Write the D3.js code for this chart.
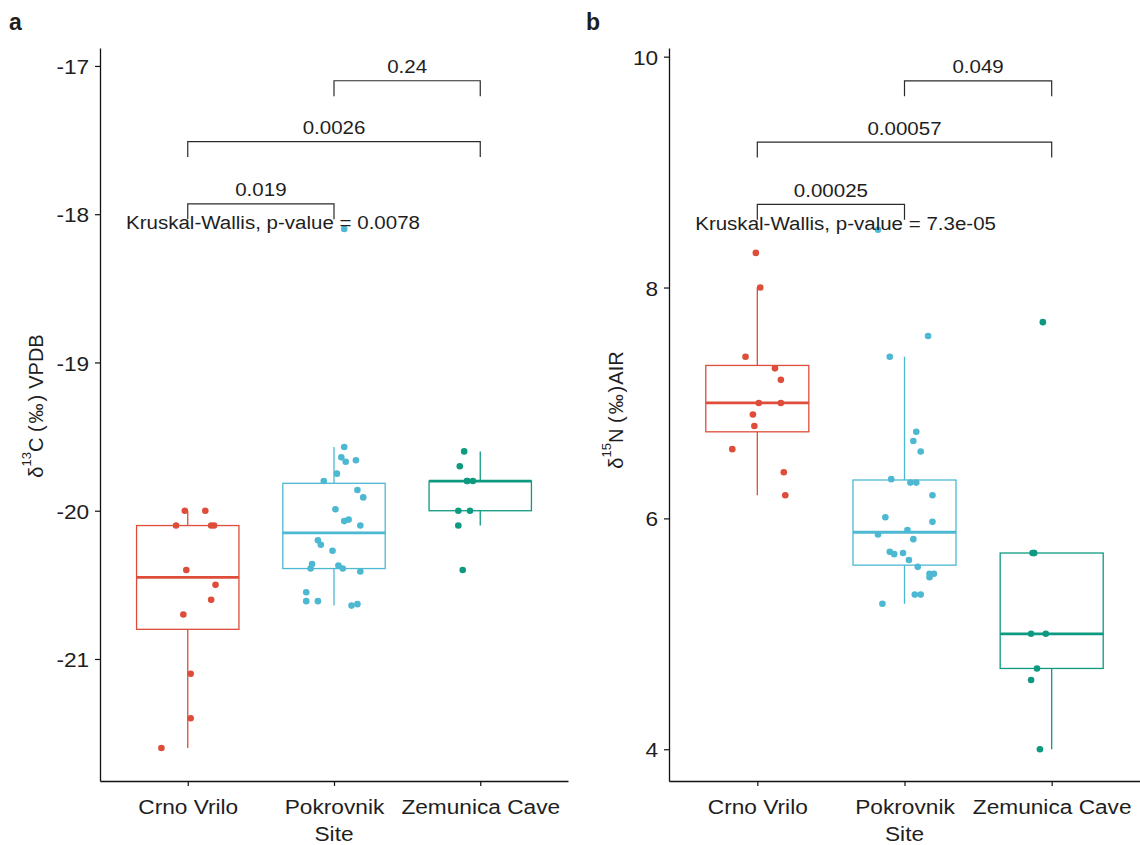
<!DOCTYPE html>
<html>
<head>
<meta charset="utf-8">
<script src="https://cdn.jsdelivr.net/npm/d3@7"></script>
<style>
  html, body { margin: 0; padding: 0; background: #fff; }
  svg text { font-family: "Liberation Sans", Arial, sans-serif; fill: #1e1e1e; }
</style>
</head>
<body>
<svg id="chart" width="1140" height="845"></svg>
<script>
const sites = ["Crno Vrilo", "Pokrovnik", "Zemunica Cave"];

// δ13C (‰ VPDB) per site, with the horizontal jitter of each point (category units)
const carbonCrno = [-20.0, -20.0, -20.1, -20.1, -20.1, -20.4, -20.5, -20.6, -20.7, -21.1, -21.4, -21.6];
const carbonCrnoJit = [-0.02, 0.12, -0.08, 0.16, 0.18, -0.01, 0.19, 0.16, -0.03, 0.02, 0.02, -0.18];
const carbonPokr = [-19.57, -19.64, -19.67, -19.66, -19.75, -19.80, -19.86, -19.91, -19.99, -20.06, -20.07, -20.10, -20.20,
  -20.23, -20.27, -20.36, -20.39, -20.37, -20.39, -20.41, -20.55, -20.61, -20.61, -20.64, -20.63, -18.10];
const carbonPokrJit = [0.07, 0.05, 0.08, 0.15, 0.02, -0.07, 0.16, 0.20, 0.01, 0.10, 0.07, 0.18, -0.11,
  -0.09, -0.01, -0.15, -0.16, 0.03, 0.06, 0.18, -0.19, -0.19, -0.11, 0.12, 0.16, 0.07];
const carbonZemu = [-19.6, -19.7, -19.8, -19.8, -19.8, -20.0, -20.0, -20.1, -20.4];
const carbonZemuJit = [-0.11, -0.14, -0.09, -0.05, -0.09, -0.15, -0.07, -0.15, -0.12];

// δ15N (‰ AIR) per site
const nitroCrno = [8.3, 8.0, 7.4, 7.3, 7.2, 7.0, 7.0, 6.9, 6.8, 6.6, 6.4, 6.2];
const nitroCrnoJit = [-0.01, 0.02, -0.08, 0.12, 0.16, 0.01, 0.16, -0.03, -0.02, -0.17, 0.18, 0.19];
const nitroPokr = [8.50, 7.58, 7.40, 6.75, 6.67, 6.58, 6.34, 6.31, 6.31, 6.20, 6.01, 5.97, 5.90,
  5.86, 5.82, 5.71, 5.69, 5.70, 5.64, 5.58, 5.52, 5.52, 5.49, 5.34, 5.34, 5.26];
const nitroPokrJit = [-0.18, 0.16, -0.10, 0.08, 0.06, 0.11, -0.09, 0.04, 0.08, 0.19, -0.13, 0.19, 0.02,
  -0.18, 0.06, -0.10, -0.07, -0.01, 0.03, 0.09, 0.17, 0.20, 0.17, 0.07, 0.11, -0.15];
const nitroZemu = [7.7, 5.7, 5.7, 5.7, 5.0, 5.0, 4.7, 4.6, 4.0];
const nitroZemuJit = [-0.06, -0.13, -0.12, -0.12, -0.14, -0.04, -0.10, -0.14, -0.08];

const carbonTicks = [-21, -20, -19, -18, -17];
const nitroTicks = [4, 6, 8, 10];

// pairwise comparisons: [group, group, p-value label]
const carbonPairs = [[1, 2, "0.019"], [1, 3, "0.0026"], [2, 3, "0.24"]];
const carbonPairY = [-17.93, -17.51, -17.10];
const nitroPairs = [[1, 2, "0.00025"], [1, 3, "0.00057"], [2, 3, "0.049"]];
const nitroPairY = [8.72, 9.26, 9.79];

const carbonKW = "Kruskal-Wallis, p-value = 0.0078";
const nitroKW = "Kruskal-Wallis, p-value = 7.3e-05";

const colors = ["#DD4D39", "#4DB8D2", "#0E9A80"];
const SX = 1.08; // text in the reference is slightly wide

const svg = d3.select("#chart");

function drawPanel(o) {
  const g = svg.append("g");
  const x = d3.scaleLinear().domain([0.4, 3.6]).range(o.xRange);
  const y = d3.scaleLinear().domain(o.yDomain).range([781, 48]);
  const bw = 0.35;

  // boxplots (outliers hidden, jitter points show them)
  o.groups.forEach((vals, i) => {
    const s = vals.slice().sort(d3.ascending);
    const q1 = d3.quantile(s, 0.25), med = d3.quantile(s, 0.5), q3 = d3.quantile(s, 0.75);
    const iqr = q3 - q1;
    const lo = d3.min(s.filter(v => v >= q1 - 1.5 * iqr));
    const hi = d3.max(s.filter(v => v <= q3 + 1.5 * iqr));
    const cx = x(i + 1);
    const bg = g.append("g").attr("stroke", colors[i]).attr("fill", "none");
    bg.append("line").attr("x1", cx).attr("x2", cx).attr("y1", y(q3)).attr("y2", y(hi)).attr("stroke-width", 1.3);
    bg.append("line").attr("x1", cx).attr("x2", cx).attr("y1", y(q1)).attr("y2", y(lo)).attr("stroke-width", 1.3);
    bg.append("rect")
      .attr("x", x(i + 1 - bw)).attr("width", x(i + 1 + bw) - x(i + 1 - bw))
      .attr("y", y(q3)).attr("height", y(q1) - y(q3))
      .attr("fill", "#fff").attr("stroke-width", 1.3);
    bg.append("line").attr("x1", x(i + 1 - bw)).attr("x2", x(i + 1 + bw))
      .attr("y1", y(med)).attr("y2", y(med)).attr("stroke-width", 2.8);
  });

  // jittered points
  o.groups.forEach((vals, i) => {
    g.append("g").selectAll("circle")
      .data(vals.map((v, k) => ({ v, j: o.jitter[i][k] })))
      .enter().append("circle")
      .attr("cx", d => x(i + 1 + d.j))
      .attr("cy", d => y(d.v))
      .attr("r", 3.3)
      .attr("fill", colors[i]);
  });

  // comparison brackets
  const tip = 0.021 * (o.yDomain[1] - o.yDomain[0]);
  o.pairs.forEach((p, k) => {
    const v = o.pairY[k];
    g.append("path")
      .attr("d", `M${x(p[0])},${y(v - tip)}V${y(v)}H${x(p[1])}V${y(v - tip)}`)
      .attr("fill", "none").attr("stroke", "#2a2a2a").attr("stroke-width", 1.2);
    g.append("text")
      .attr("transform", `translate(${(x(p[0]) + x(p[1])) / 2},${y(v) - 7.5}) scale(${SX},1)`)
      .attr("text-anchor", "middle")
      .style("font-size", "19px")
      .text(p[2]);
  });

  // Kruskal-Wallis label at the highest observation
  const top = d3.max(o.groups.flat());
  g.append("text")
    .attr("transform", `translate(${x(0.578)},${y(top)}) scale(${SX},1)`)
    .style("font-size", "19px")
    .text(o.kw);

  // axes
  const xAxis = g.append("g")
    .attr("transform", "translate(0,781)")
    .call(d3.axisBottom(x).tickValues([1, 2, 3]).tickFormat((d, i) => sites[i])
      .tickSize(5).tickSizeOuter(0).tickPadding(13));
  const yAxis = g.append("g")
    .attr("transform", `translate(${o.xRange[0]},0)`)
    .call(d3.axisLeft(y).tickValues(o.ticks).tickFormat(d => String(d))
      .tickSize(5).tickSizeOuter(0).tickPadding(5));
  [xAxis, yAxis].forEach(a => {
    a.select(".domain").attr("stroke", "#111").attr("stroke-width", 1.3);
    a.selectAll(".tick line").attr("stroke", "#111").attr("stroke-width", 1.2);
    a.selectAll("text").attr("fill", "#1e1e1e").style("font-size", "21px")
      .attr("transform", `scale(${SX},1)`);
  });
  yAxis.selectAll("text").attr("dy", "0.36em");

  // axis titles
  g.append("text")
    .attr("transform", `translate(${(o.xRange[0] + o.xRange[1]) / 2},841) scale(${SX},1)`)
    .attr("text-anchor", "middle")
    .style("font-size", "21px")
    .text("Site");

  const yt = g.append("text")
    .attr("transform", `translate(${o.titleX},${o.titleY}) rotate(-90)`)
    .attr("text-anchor", "middle")
    .style("font-size", "20px");
  yt.append("tspan").text("δ");
  yt.append("tspan").attr("dy", -12).style("font-size", "13px").text(o.sup);
  yt.append("tspan").attr("dy", 12).text(o.main);
  yt.append("tspan").text("(");
  yt.append("tspan").attr("dx", 2).text("‰");
  yt.append("tspan").attr("dx", 2).text(")");
  yt.append("tspan").attr("dx", o.gap).text(o.tail);

  // panel tag
  svg.append("text")
    .attr("x", o.tagX).attr("y", 30)
    .style("font-size", "23px").style("font-weight", "bold").attr("fill", "#111")
    .text(o.tag);
}

drawPanel({
  tag: "a", tagX: 9,
  xRange: [100, 568],
  yDomain: [-21.823, -16.879],
  ticks: carbonTicks,
  groups: [carbonCrno, carbonPokr, carbonZemu],
  jitter: [carbonCrnoJit, carbonPokrJit, carbonZemuJit],
  pairs: carbonPairs, pairY: carbonPairY, kw: carbonKW,
  titleX: 43, titleY: 406, sup: "13", main: "C ", tail: "VPDB", gap: 6
});

drawPanel({
  tag: "b", tagX: 586,
  xRange: [669, 1140],
  yDomain: [3.725, 10.075],
  ticks: nitroTicks,
  groups: [nitroCrno, nitroPokr, nitroZemu],
  jitter: [nitroCrnoJit, nitroPokrJit, nitroZemuJit],
  pairs: nitroPairs, pairY: nitroPairY, kw: nitroKW,
  titleX: 623, titleY: 410, sup: "15", main: "N ", tail: "AIR", gap: 1
});
</script>
</body>
</html>
